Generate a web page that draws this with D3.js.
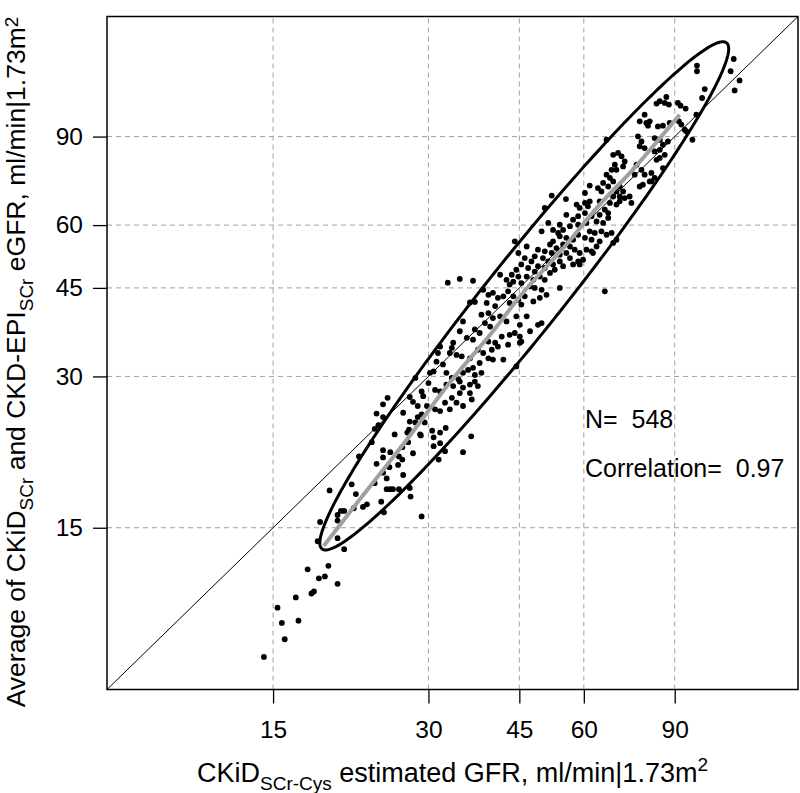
<!DOCTYPE html>
<html>
<head>
<meta charset="utf-8">
<script src="https://cdn.jsdelivr.net/npm/d3@7"></script>
<style>
  body { margin: 0; background: #ffffff; }
  svg { display: block; }
</style>
</head>
<body>
<svg id="chart" width="800" height="793"></svg>
<script>
// ---------------- data ----------------
const tickValues = [15, 30, 45, 60, 90];
const nText = "N=  548";
const corrText = "Correlation=  0.97";

// [CKiD SCr-Cys eGFR, average of CKiD SCr and CKD-EPI SCr eGFR]
const points = [
  [14.4,8.3],[15.8,9.0],[15.6,9.7],[16.8,9.8],[15.3,10.4],[16.6,10.9],[17.8,11.1],[18.0,11.2],[20.0,11.6],[18.4,11.9],
  [18.9,12.0],[17.5,12.4],[19.2,12.6],[20.6,13.6],[20.0,14.3],[18.3,14.1],[18.5,15.4],[20.0,15.5],[20.0,15.9],[20.3,16.2],
  [20.6,16.2],[21.5,16.4],[22.4,16.5],[22.8,16.7],[24.6,16.1],[24.3,16.9],[19.3,17.8],[21.7,17.5],[21.3,18.3],[23.6,18.4],
  [24.9,17.9],[25.3,17.9],[25.6,17.9],[26.3,17.9],[27.6,18.0],[27.7,17.3],[24.9,18.8],[26.8,19.1],[24.5,19.3],[23.8,20.1],
  [24.5,20.7],[24.5,21.4],[25.3,21.2],[25.2,19.8],[26.2,20.0],[26.3,20.8],[26.7,20.5],[28.0,21.1],[22.0,20.8],[23.3,22.2],
  [27.4,22.2],
  [29.1,15.8],[31.4,20.5],[35.0,21.2],[36.3,22.8],[32.3,21.3],[30.7,21.8],[31.6,22.1],[30.7,22.7],[31.6,23.2],[30.5,23.4],
  [32.4,23.7],[29.0,22.9],[26.7,21.7],[27.6,24.4],[28.3,24.3],[26.8,25.4],[28.6,26.2],[27.5,23.5],[27.3,23.2],
  [32.7,46.1],[34.5,46.9],[36.6,46.5],[36.1,42.1],[36.9,42.2],[28.3,29.8],[25.0,27.2],[24.5,26.4],[27.6,27.3],[28.0,26.7],
  [23.8,25.3],[24.5,24.9],[28.6,24.9],[29.5,24.3],[25.8,23.0],[28.9,23.0],[24.0,24.0],[23.6,23.6],
  [38.0,39.8],[39.2,40.1],[40.0,39.2],[38.6,38.3],[39.5,37.7],[41.3,39.5],[42.5,38.6],[44.4,39.5],[45.1,38.0],[46.5,39.5],
  [48.9,38.0],[47.2,36.9],[44.1,36.6],[43.1,36.3],[45.1,36.0],[41.6,36.0],[40.4,35.0],[39.2,35.2],[37.7,36.6],[36.9,37.2],
  [36.6,35.5],[35.6,35.8],[35.0,38.6],[34.5,36.9],[33.5,35.0],[33.3,34.2],[33.0,33.4],[34.0,33.1],[34.8,32.9],[36.1,32.6],
  [37.4,33.9],[38.3,33.4],[39.8,33.9],[40.9,34.4],[42.8,34.7],[45.1,35.0],[39.2,32.6],[40.0,32.4],[41.9,32.4],[37.7,31.9],
  [36.6,31.2],[35.8,30.9],[36.9,30.2],[38.0,30.5],[35.0,30.5],[34.3,29.6],[33.3,29.8],[32.5,30.5],[32.0,31.7],[31.1,32.1],
  [31.3,33.4],[31.6,34.4],[30.7,30.7],[30.2,30.5],[30.0,29.1],[29.1,28.0],[29.3,27.4],[30.9,28.2],[31.6,28.0],[32.5,28.9],
  [33.5,28.7],[34.5,29.3],[35.0,28.5],[36.1,28.9],[36.9,29.3],[37.4,28.7],[36.1,27.8],[34.5,27.8],[33.3,27.2],[32.3,26.6],
  [34.0,26.6],[35.0,26.2],[36.4,27.0],[33.0,25.8],[31.6,25.6],[30.9,25.8],[29.8,26.2],[29.1,25.2],[44.4,31.4],[45.4,35.2],
  [52.0,68.7],[55.4,67.6],[74.2,66.4],[44.1,55.7],[44.8,52.8],[44.4,48.9],[43.5,47.8],[44.8,47.4],[41.3,47.8],[42.5,46.7],
  [43.1,45.7],[43.8,46.3],[38.3,44.6],[39.2,43.6],[40.0,44.0],[40.9,43.0],[41.9,43.3],[42.8,44.3],[43.8,43.3],[44.8,42.6],
  [38.9,42.0],[40.4,41.4],[43.1,42.0],[49.7,38.3],
  [50.4,64.9],[58.1,65.9],[58.9,64.9],[60.3,66.4],[61.6,66.9],[64.4,66.9],[67.4,66.4],[69.4,65.9],[70.4,66.9],[65.9,64.4],
  [64.4,62.9],[66.9,62.0],[65.4,60.6],[63.5,61.0],[62.1,62.5],[60.3,63.4],[58.5,62.5],[57.2,61.5],[55.5,62.9],[53.9,60.1],
  [51.2,60.6],[49.7,58.3],[52.3,58.7],[53.5,57.9],[54.7,58.7],[56.4,59.7],[58.5,60.1],[60.7,60.6],[61.6,58.3],[63.0,57.9],
  [64.9,58.3],[66.4,57.4],[67.9,57.9],[69.4,56.1],[68.4,55.3],[62.1,56.1],[60.3,56.6],[58.5,57.4],[57.2,56.1],[55.5,56.6],
  [53.9,57.0],[52.3,55.7],[51.6,54.9],[53.1,54.0],[54.7,54.9],[56.4,54.4],[57.6,53.6],[58.9,52.8],[60.7,53.6],[62.1,53.2],
  [59.8,51.2],[58.5,50.8],[57.2,50.1],[56.4,51.6],[55.5,52.8],[53.9,52.4],[52.0,52.8],[50.4,53.2],[48.9,53.6],[46.5,54.4],
  [48.2,52.0],[50.0,51.6],[51.2,50.8],[52.3,50.1],[53.9,50.8],[54.7,49.7],[52.7,48.9],[51.6,48.2],[50.4,49.3],[48.9,49.7],
  [47.5,50.8],[46.1,51.6],[45.4,50.1],[46.8,49.3],[48.2,48.5],[49.3,47.4],[50.4,46.7],[47.9,46.7],[46.5,47.4],[45.4,46.0],
  [47.2,45.3],[48.2,45.0],[49.7,44.6],[50.8,43.6],[49.3,43.0],[47.9,42.3],[46.1,43.3],[45.4,41.7],[53.9,45.0],[65.9,44.3],
  [62.5,52.8],[64.4,55.7],[61.1,65.4],[63.5,54.4],[58.9,50.1],[66.9,63.4],
  [66.4,88.7],[97.4,88.7],[76.4,90.1],[77.6,88.0],[77.0,86.1],[78.7,85.4],[82.3,89.4],[84.2,88.7],[85.4,86.7],[87.3,88.0],
  [82.3,84.1],[84.2,84.7],[86.1,82.8],[84.2,81.6],[83.0,80.9],[69.9,83.5],[71.0,82.2],[68.4,82.8],[72.0,80.3],[68.9,79.1],
  [67.9,77.3],[69.4,77.3],[71.5,78.5],[75.9,79.1],[77.6,77.3],[75.3,75.6],[78.7,75.6],[81.1,76.2],[85.4,77.9],[82.3,74.5],
  [81.1,73.3],[66.4,75.6],[67.4,74.5],[65.4,72.8],[66.9,71.6],[68.4,73.3],[61.6,71.9],[63.9,71.1],[64.9,70.0],[60.3,69.5],
  [70.4,71.6],[71.5,70.0],[69.4,70.0],[72.0,67.9],[70.4,68.4],[73.6,68.4],[77.0,71.6],[78.1,72.2],[80.5,73.3],[68.4,68.4],
  [80.5,96.5],[88.0,95.8],[94.1,92.9],[94.8,92.2],
  [117.1,128.4],[115.5,121.4],[120.2,116.4],[117.6,111.2],[99.4,124.6],[99.4,121.4],[102.9,111.9],[101.7,107.4],[86.7,107.9],[84.2,105.8],
  [83.0,104.7],[86.1,105.0],[87.7,104.2],[91.3,105.0],[92.4,103.7],[94.5,102.3],[78.7,99.5],[77.0,96.5],[79.3,95.8],[79.9,94.6],
  [83.5,94.3],[85.4,94.6],[91.7,96.5],[92.7,95.1],[99.1,99.5]
];

// smoothed (loess) curve
const smoothCurve = [
  [18.8,13.8],[22.1,17.1],[27.0,22.2],[33.3,29.5],[39.5,36.3],[45.9,44.2],[54.4,53.6],[64.4,65.9],[74.6,77.3],[92.0,99.5]
];

// data ellipse (in natural-log units): centre and two conjugate semi-axes
const ellipseCenter = [46.0, 43.4];
const ellipseAxisA = [0.9025, 1.159];
const ellipseAxisB = [0.1312, -0.1079];

const axisDomain = [7.15, 156];

// ---------------- drawing ----------------
const FONT = "'Liberation Sans', Arial, Helvetica, sans-serif";
const svg = d3.select("#chart");
svg.append("rect").attr("width", 800).attr("height", 793).attr("fill", "#ffffff");

const x = d3.scaleLog().domain(axisDomain).range([107, 798]);
const y = d3.scaleLog().domain(axisDomain).range([689.5, 16.5]);

const [x0, x1] = x.range();
const [y0, y1] = y.range();

// grid
const grid = svg.append("g")
  .attr("stroke", "#a0a0a0").attr("stroke-width", 1).attr("stroke-dasharray", "5,4");
grid.selectAll("line.gx").data(tickValues).join("line")
  .attr("x1", d => x(d)).attr("x2", d => x(d)).attr("y1", y0).attr("y2", y1);
grid.selectAll("line.gy").data(tickValues).join("line")
  .attr("x1", x0).attr("x2", x1).attr("y1", d => y(d)).attr("y2", d => y(d));

// identity line
svg.append("line")
  .attr("x1", x(axisDomain[0])).attr("y1", y(axisDomain[0]))
  .attr("x2", x(axisDomain[1])).attr("y2", y(axisDomain[1]))
  .attr("stroke", "#000").attr("stroke-width", 1);

// points
svg.append("g").selectAll("circle").data(points).join("circle")
  .attr("cx", d => x(d[0])).attr("cy", d => y(d[1])).attr("r", 2.9).attr("fill", "#000");

// ellipse
const ellPts = d3.range(0, 241).map(i => {
  const t = i / 240 * 2 * Math.PI;
  const lx = Math.log(ellipseCenter[0]) + ellipseAxisA[0] * Math.cos(t) + ellipseAxisB[0] * Math.sin(t);
  const ly = Math.log(ellipseCenter[1]) + ellipseAxisA[1] * Math.cos(t) + ellipseAxisB[1] * Math.sin(t);
  return [Math.exp(lx), Math.exp(ly)];
});
svg.append("path")
  .attr("d", d3.line().x(d => x(d[0])).y(d => y(d[1]))(ellPts))
  .attr("fill", "none").attr("stroke", "#000").attr("stroke-width", 3);

// smooth line
svg.append("path")
  .attr("d", d3.line().x(d => x(d[0])).y(d => y(d[1])).curve(d3.curveCatmullRom)(smoothCurve))
  .attr("fill", "none").attr("stroke", "#a0a0a0").attr("stroke-width", 4).attr("stroke-linecap", "butt");

// box
svg.append("rect")
  .attr("x", x0).attr("y", y1).attr("width", x1 - x0).attr("height", y0 - y1)
  .attr("fill", "none").attr("stroke", "#000").attr("stroke-width", 1.5);

// axes
const gx = svg.append("g").attr("transform", `translate(0,${y0})`)
  .call(d3.axisBottom(x).tickValues(tickValues).tickFormat(d3.format("d")).tickSize(14).tickPadding(17.5));
gx.select(".domain").remove();
gx.attr("font-family", FONT).attr("font-size", 24.5);
gx.selectAll("line").attr("stroke", "#000").attr("stroke-width", 1.3);
gx.selectAll("text").attr("fill", "#000");

const gy = svg.append("g").attr("transform", `translate(${x0},0)`)
  .call(d3.axisLeft(y).tickValues(tickValues).tickFormat(d3.format("d")).tickSize(14).tickPadding(10));
gy.select(".domain").remove();
gy.attr("font-family", FONT).attr("font-size", 24.5);
gy.selectAll("line").attr("stroke", "#000").attr("stroke-width", 1.3);
gy.selectAll("text").attr("fill", "#000");

// annotations
svg.append("text").attr("x", 585).attr("y", 428).attr("font-family", FONT).attr("font-size", 25)
  .attr("fill", "#000").attr("xml:space", "preserve").style("white-space", "pre").text(nText);
svg.append("text").attr("x", 585).attr("y", 476.5).attr("font-family", FONT).attr("font-size", 25)
  .attr("fill", "#000").attr("xml:space", "preserve").style("white-space", "pre").text(corrText);

// axis titles
function richText(sel, parts, supShift) {
  parts.forEach(p => {
    const t = sel.append("tspan").text(p.t);
    if (p.sub) t.attr("font-size", 19).attr("dy", 8);
    if (p.sup) t.attr("font-size", 19).attr("dy", -supShift);
    if (p.back) t.attr("dy", p.back);
  });
}
const xt = svg.append("text").attr("x", (x0 + x1) / 2).attr("y", 782)
  .attr("text-anchor", "middle").attr("font-family", FONT).attr("font-size", 27).attr("fill", "#000")
  .style("white-space", "pre");
richText(xt, [
  {t: "CKiD"}, {t: "SCr-Cys", sub: true}, {t: " estimated GFR, ml/min|1.73m", back: -8}, {t: "2", sup: true}
], 11);

const yt = svg.append("text").attr("transform", `translate(25,${(y0 + y1) / 2 + 9}) rotate(-90)`)
  .attr("text-anchor", "middle").attr("font-family", FONT).attr("font-size", 26.5).attr("fill", "#000")
  .style("white-space", "pre");
richText(yt, [
  {t: "Average of CKiD"}, {t: "SCr", sub: true}, {t: " and CKD-EPI", back: -8}, {t: "SCr", sub: true},
  {t: " eGFR, ml/min|1.73m", back: -8}, {t: "2", sup: true}
], 7.5);
</script>
</body>
</html>
